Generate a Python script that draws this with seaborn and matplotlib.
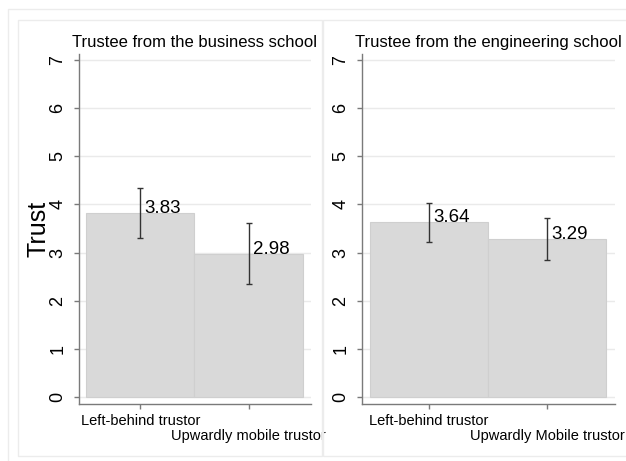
import pandas as pd
import seaborn as sns
from matplotlib import pyplot as plt
from matplotlib.patches import Rectangle

# values
panel_titles = ["Trustee from the business school", "Trustee from the engineering school"]
trustor_labels = [
    ["Left-behind trustor", "Upwardly mobile trustor"],
    ["Left-behind trustor", "Upwardly Mobile trustor"],
]
mean_trust = [[3.83, 2.98], [3.64, 3.29]]
ci_low = [[3.31, 2.34], [3.22, 2.84]]
ci_high = [[4.35, 3.61], [4.04, 3.72]]

BAR = "#d9d9d9"
GRID = "#eaeaea"
AXIS = "#7a7a7a"
FRAME = "#ececec"

sns.set_theme(style="white")
plt.rcParams["font.family"] = ["Liberation Sans", "DejaVu Sans"]
plt.rcParams["text.color"] = "black"
plt.rcParams["axes.labelcolor"] = "black"
plt.rcParams["xtick.labelcolor"] = "black"
plt.rcParams["ytick.labelcolor"] = "black"

W, H = 626, 461
fig = plt.figure(figsize=(W / 100, H / 100), dpi=100)

# outer and panel frames (Stata-style graph regions)
fig.patches.append(Rectangle((8 / W, -0.1), 1.2, 1.1 - 9 / H, transform=fig.transFigure,
                             fill=False, ec=FRAME, lw=1))
for x0, x1 in [(18, 322), (323, 700)]:
    fig.patches.append(Rectangle((x0 / W, 1 - 456 / H), (x1 - x0) / W, (456 - 20) / H,
                                 transform=fig.transFigure, fill=False, ec=FRAME, lw=1))

axes_px = [(79, 311), (362, 615)]
for i, (x0, x1) in enumerate(axes_px):
    ax = fig.add_axes([x0 / W, 1 - 404 / H, (x1 - x0) / W, (404 - 54) / H])
    df = pd.DataFrame({"trustor": trustor_labels[i], "trust": mean_trust[i]})
    sns.barplot(data=df, x="trustor", y="trust", color=BAR, saturation=1, width=1,
                errorbar=None, edgecolor="#cfcfcf", linewidth=0.8, ax=ax)
    means = df["trust"].to_numpy()
    lo = means - pd.Series(ci_low[i]).to_numpy()
    hi = pd.Series(ci_high[i]).to_numpy() - means
    ax.errorbar(range(len(means)), means, yerr=[lo, hi], fmt="none", ecolor="#333333",
                elinewidth=1, capsize=2.5, capthick=1, zorder=3)
    for j, m in enumerate(means):
        ax.annotate(f"{m:.2f}", (j, m), xytext=(3, 0), textcoords="offset points",
                    ha="left", va="baseline", fontsize=13.5, color="black")

    ax.set_xlim(-0.565, 1.575)
    ax.set_ylim(-0.15, 7.13)
    ax.set_yticks(range(8))
    ax.yaxis.grid(True, color=GRID, lw=1)
    ax.set_axisbelow(True)
    for side in ["top", "right"]:
        ax.spines[side].set_visible(False)
    for side in ["left", "bottom"]:
        ax.spines[side].set_color(AXIS)
        ax.spines[side].set_linewidth(1)
    ax.tick_params(axis="y", labelrotation=90, length=3.5, width=1, color=AXIS,
                   labelsize=13, pad=5.5, left=True, labelcolor="black")
    ax.tick_params(axis="x", length=3.5, width=1, color=AXIS, labelsize=10.5, pad=4,
                   bottom=True, labelcolor="black")
    for lab in ax.get_yticklabels():
        lab.set_va("center")
    ax.xaxis.get_major_ticks()[1].set_pad(14.3)
    ax.set_xlabel("")
    ax.set_ylabel("Trust" if i == 0 else "", fontsize=18, labelpad=-0.5, color="black")
    ax.set_title(panel_titles[i], fontsize=12, pad=5, color="black")

fig.savefig("out.png", dpi=100)
